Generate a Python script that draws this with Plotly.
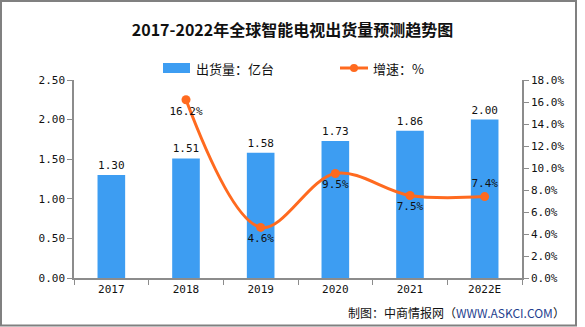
import plotly.graph_objects as go

years = ["2017", "2018", "2019", "2020", "2021", "2022E"]
shipments = [1.30, 1.51, 1.58, 1.73, 1.86, 2.00]
growth_years = ["2018", "2019", "2020", "2021", "2022E"]
growth = [16.2, 4.6, 9.5, 7.5, 7.4]
growth_label_pos = ["bottom center", "bottom center", "bottom center", "bottom center", "top center"]
series_names = ["出货量：亿台", "增速：%"]

BLUE = "#3D9DF2"
ORANGE = "#FF6A1F"
AXIS = "#8C8C8C"
NUMFONT = "DejaVu Sans Mono, Noto Sans CJK SC"
CJK = "Noto Sans CJK SC"

L, R, T, B, W, H = 74, 63, 80, 49, 585, 327
PW, PH = W - L - R, H - T - B


def px(x):
    return (x - L) / PW


def py(y):
    return (H - B - y) / PH


fig = go.Figure()
fig.add_trace(go.Bar(
    x=years, y=shipments, name=series_names[0],
    marker=dict(color=BLUE, line=dict(width=0)),
    width=0.37,
    text=[f"{v:.2f}" for v in shipments], textposition="outside",
    textfont=dict(family=NUMFONT, size=11, color="#111111"),
    cliponaxis=False, showlegend=False,
))
fig.add_trace(go.Scatter(
    x=growth_years, y=growth, name=series_names[1], yaxis="y2",
    mode="lines+markers+text",
    line=dict(color=ORANGE, width=3, shape="spline", smoothing=1.0),
    marker=dict(color=ORANGE, size=9),
    text=[f"{v:.1f}%" for v in growth], textposition=growth_label_pos,
    textfont=dict(family=NUMFONT, size=11, color="#111111"),
    cliponaxis=False, showlegend=False,
))

shapes = [
    dict(type="rect", xref="paper", yref="paper",
         x0=px(1), x1=px(576), y0=py(325.5), y1=py(1),
         line=dict(color="#808080", width=2), fillcolor="rgba(0,0,0,0)", layer="above"),
    # legend keys
    dict(type="rect", xref="paper", yref="paper",
         x0=px(163), x1=px(190), y0=py(73), y1=py(63),
         line=dict(width=0), fillcolor=BLUE),
    dict(type="line", xref="paper", yref="paper",
         x0=px(340), x1=px(368), y0=py(68), y1=py(68),
         line=dict(color=ORANGE, width=3)),
    dict(type="circle", xref="paper", yref="paper",
         x0=px(350), x1=px(358), y0=py(72), y1=py(64),
         line=dict(width=0), fillcolor=ORANGE),
]

annotations = [
    dict(xref="paper", yref="paper", x=px(194), y=py(68), xanchor="left", yanchor="middle",
         showarrow=False, text=series_names[0],
         font=dict(family=CJK, size=13, color="#111111")),
    dict(xref="paper", yref="paper", x=px(371), y=py(68), xanchor="left", yanchor="middle",
         showarrow=False, text=series_names[1],
         font=dict(family=CJK, size=13, color="#111111")),
    dict(xref="paper", yref="paper",
         x=px(567), y=py(312), xanchor="right", yanchor="middle",
         showarrow=False,
         text="制图：中商情报网（<span style='color:#1F3F8F'>WWW.ASKCI.COM</span>）",
         font=dict(family=CJK, size=12, color="#111111")),
]

fig.update_layout(
    width=W, height=H,
    margin=dict(l=L, r=R, t=T, b=B),
    paper_bgcolor="white", plot_bgcolor="white",
    title=dict(text="<b>2017-2022年全球智能电视出货量预测趋势图</b>",
               x=0.5, xanchor="center", y=1 - 30 / H, yanchor="middle",
               font=dict(family=CJK, size=16, color="#111111")),
    showlegend=False,
    bargap=0.6,
    xaxis=dict(type="category", showline=True, linecolor=AXIS, linewidth=1.5,
               ticks="outside", tickson="boundaries", ticklen=5, tickcolor=AXIS,
               tickfont=dict(family=NUMFONT, size=11, color="#111111"),
               showgrid=False, zeroline=False),
    yaxis=dict(range=[0, 2.5], dtick=0.5, tickformat=".2f", showline=True,
               linecolor=AXIS, linewidth=1.5, ticks="outside", ticklen=5, tickcolor=AXIS,
               tickfont=dict(family=NUMFONT, size=11, color="#111111"),
               showgrid=False, zeroline=False),
    yaxis2=dict(range=[0, 18], overlaying="y", side="right",
                tickvals=[0, 2, 4, 6, 8, 10, 12, 14, 16, 18],
                ticktext=[f"{v:.1f}%" for v in [0, 2, 4, 6, 8, 10, 12, 14, 16, 18]],
                showline=True, linecolor=AXIS, linewidth=1.5, ticks="outside",
                ticklen=5, tickcolor=AXIS,
                tickfont=dict(family=NUMFONT, size=11, color="#111111"),
                showgrid=False, zeroline=False),
    shapes=shapes,
    annotations=annotations,
)

fig.write_html("out.html")
